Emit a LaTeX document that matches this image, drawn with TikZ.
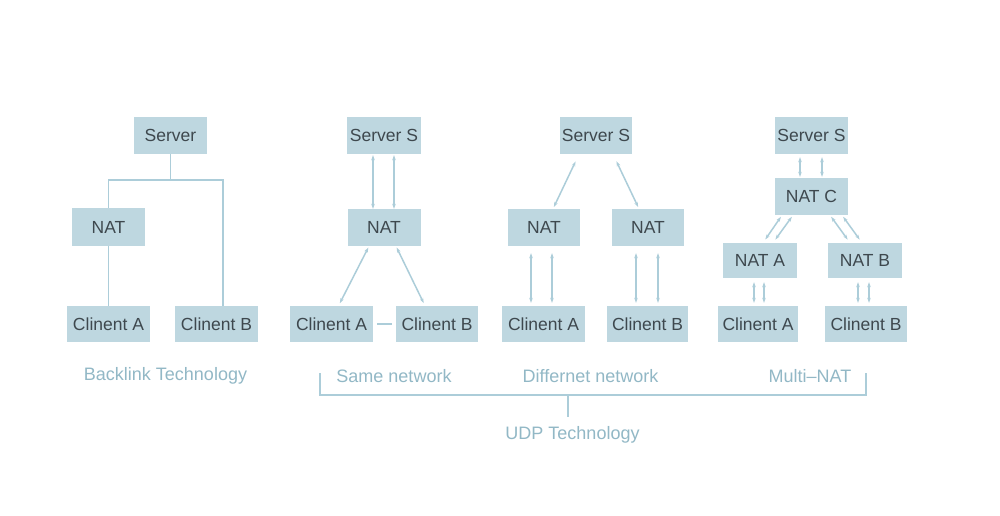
\documentclass[tikz,border=0pt]{standalone}
\usepackage{fontspec}
\setmainfont{Liberation Sans}
\usetikzlibrary{arrows.meta}
\definecolor{boxfill}{RGB}{190,215,224}
\definecolor{boxtext}{RGB}{62,72,78}
\definecolor{linec}{RGB}{172,205,217}
\definecolor{labc}{RGB}{146,184,198}
\tikzset{
  box/.style={fill=boxfill,draw=none,inner sep=0pt,font=\fontsize{17.5}{19}\selectfont,text=boxtext},
  conn/.style={draw=linec,line width=1.7pt},
  arr/.style={conn,line width=1.5pt,{Stealth[length=5pt,width=3.5pt]}-{Stealth[length=5pt,width=3.5pt]}},
  lab/.style={font=\fontsize{18}{20}\selectfont,text=labc,inner sep=0pt}
}
\begin{document}
\begin{tikzpicture}[x=1pt,y=-1pt]
\useasboundingbox[fill=white] (0,0) rectangle (1000,515);
% Panel 1
\node[box,minimum width=73pt,minimum height=37pt] (s1) at (170.5,135.5) {Server};
\node[box,minimum width=73pt,minimum height=38pt] (n1) at (108.5,227) {NAT};
\node[box,minimum width=83pt,minimum height=36pt] (a1) at (108.5,324) {Clinent A};
\node[box,minimum width=83pt,minimum height=36pt] (b1) at (216.5,324) {Clinent B};
\coordinate (j1) at (170.5,180);
\draw[conn] (s1.south) -- (j1);
\draw[conn] (n1.north) |- (j1) -| ([xshift=6.5pt]b1.north);
\draw[conn] (n1.south) -- (a1.north);
% Panel 2
\node[box,minimum width=74pt,minimum height=37pt] (s2) at (384,135.5) {Server S};
\node[box,minimum width=73pt,minimum height=37pt] (n2) at (384,227.5) {NAT};
\node[box,minimum width=83pt,minimum height=36pt] (a2) at (331.5,324) {Clinent A};
\node[box,minimum width=82pt,minimum height=36pt] (b2) at (437,324) {Clinent B};
\draw[arr,shorten <=1pt] ([xshift=-11pt]s2.south) -- ([xshift=-11pt]n2.north);
\draw[arr,shorten <=1pt] ([xshift=10pt]s2.south) -- ([xshift=10pt]n2.north);
\draw[arr,shorten <=1.5pt,shorten >=3pt] ([xshift=-15pt]n2.south) -- ([xshift=7pt]a2.north);
\draw[arr,shorten <=1.5pt,shorten >=3pt] ([xshift=12pt]n2.south) -- ([xshift=-12pt]b2.north);
\draw[conn,shorten <=4pt,shorten >=4pt] (a2.east) -- (b2.west);
% Panel 3
\node[box,minimum width=72pt,minimum height=37pt] (s3) at (596,135.5) {Server S};
\node[box,minimum width=72pt,minimum height=37pt] (n3a) at (544,227.5) {NAT};
\node[box,minimum width=72pt,minimum height=37pt] (n3b) at (648,227.5) {NAT};
\node[box,minimum width=83pt,minimum height=36pt] (a3) at (543.5,324) {Clinent A};
\node[box,minimum width=81pt,minimum height=36pt] (b3) at (647.5,324) {Clinent B};
\draw[arr,shorten <=8pt,shorten >=2pt] ([xshift=-17pt]s3.south) -- ([xshift=9pt]n3a.north);
\draw[arr,shorten <=8pt,shorten >=2pt] ([xshift=17pt]s3.south) -- ([xshift=-9pt]n3b.north);
\draw[arr,shorten <=7pt,shorten >=3pt] ([xshift=-13pt]n3a.south) -- ([xshift=-12.5pt]a3.north);
\draw[arr,shorten <=7pt,shorten >=3pt] ([xshift=8pt]n3a.south) -- ([xshift=8.5pt]a3.north);
\draw[arr,shorten <=7pt,shorten >=3pt] ([xshift=-12pt]n3b.south) -- ([xshift=-11.5pt]b3.north);
\draw[arr,shorten <=7pt,shorten >=3pt] ([xshift=10pt]n3b.south) -- ([xshift=10.5pt]b3.north);
% Panel 4
\node[box,minimum width=73pt,minimum height=37pt] (s4) at (811.5,135.5) {Server S};
\node[box,minimum width=73pt,minimum height=37pt] (c4) at (811.5,196.5) {NAT C};
\node[box,minimum width=74pt,minimum height=35pt] (na4) at (760,260.5) {NAT A};
\node[box,minimum width=74pt,minimum height=35pt] (nb4) at (865,260.5) {NAT B};
\node[box,minimum width=80pt,minimum height=36pt] (a4) at (758,324) {Clinent A};
\node[box,minimum width=82pt,minimum height=36pt] (b4) at (866,324) {Clinent B};
\draw[arr,shorten <=3pt,shorten >=1pt] ([xshift=-11.5pt]s4.south) -- ([xshift=-11.5pt]c4.north);
\draw[arr,shorten <=3pt,shorten >=1pt] ([xshift=10.5pt]s4.south) -- ([xshift=10.5pt]c4.north);
\draw[arr,shorten <=2pt,shorten >=4pt] ([xshift=-29.5pt]c4.south) -- ([xshift=3pt]na4.north);
\draw[arr,shorten <=2pt,shorten >=4pt] ([xshift=-18.5pt]c4.south) -- ([xshift=13pt]na4.north);
\draw[arr,shorten <=2pt,shorten >=4pt] ([xshift=18.5pt]c4.south) -- ([xshift=-15pt]nb4.north);
\draw[arr,shorten <=2pt,shorten >=4pt] ([xshift=30.5pt]c4.south) -- ([xshift=-3pt]nb4.north);
\draw[arr,shorten <=4pt,shorten >=3pt] ([xshift=-6pt]na4.south) -- ([xshift=-4pt]a4.north);
\draw[arr,shorten <=4pt,shorten >=3pt] ([xshift=4pt]na4.south) -- ([xshift=6pt]a4.north);
\draw[arr,shorten <=4pt,shorten >=3pt] ([xshift=-7pt]nb4.south) -- ([xshift=-8pt]b4.north);
\draw[arr,shorten <=4pt,shorten >=3pt] ([xshift=4pt]nb4.south) -- ([xshift=3pt]b4.north);
% Labels
\node[lab] (l1) at (165.5,376) {Backlink Technology};
\node[lab] (l2) at (394,376) {Same network};
\node[lab] (l3) at (590.5,376) {Differnet network};
\node[lab] (l4) at (810,376) {Multi–NAT};
\node[lab] (udp) at (572.5,435) {UDP Technology};
% Bracket
\coordinate (bL) at (320,373);
\coordinate (bR) at (866,373);
\coordinate (bj) at (568,395);
\coordinate (bM) at (568,417);
\draw[conn,line width=1.4pt] (bL) |- (bj) -| (bR);
\draw[conn,line width=1.4pt] (bj) -- (bM);
\end{tikzpicture}
\end{document}
